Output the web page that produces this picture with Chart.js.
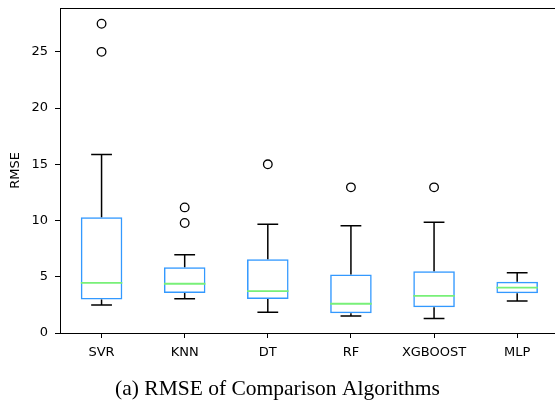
<!DOCTYPE html>
<html>
<head>
<meta charset="utf-8">
<script src="https://cdn.jsdelivr.net/npm/chart.js@4.4.3/dist/chart.umd.min.js"></script>
<style>
  html, body { margin: 0; padding: 0; background: #fff; overflow: hidden; }
</style>
</head>
<body>
<canvas id="chart" width="555" height="404"></canvas>
<script>
const algorithms = ['SVR', 'KNN', 'DT', 'RF', 'XGBOOST', 'MLP'];
const whiskerLow = [2.5, 3.05, 1.84, 1.51, 1.3, 2.84];
const quartile1 = [2.98, 3.56, 3.02, 1.75, 2.28, 3.53];
const medians = [4.45, 4.38, 3.73, 2.6, 3.3, 4.03];
const quartile3 = [10.3, 5.84, 6.55, 5.21, 5.5, 4.56];
const whiskerHigh = [15.88, 6.96, 9.66, 9.54, 9.84, 5.36];
const outliers = [[27.5, 25.0], [11.17, 9.78], [15.0], [12.95], [12.95], []];
const yTicks = [0, 5, 10, 15, 20, 25];

const tickFont = { family: '"DejaVu Sans", sans-serif', size: 13 };
const BOX_BLUE = '#3399ff';
const MEDIAN_GREEN = '#78f078';

// box outlines as floating bars
const boxData = algorithms.map((_, i) => ({ x: i + 1, y: [quartile1[i], quartile3[i]] }));

// whiskers and caps as broken line segments (y: null breaks the line)
const whiskerData = [];
algorithms.forEach((_, i) => {
  const x = i + 1;
  whiskerData.push(
    { x, y: quartile3[i] }, { x, y: whiskerHigh[i] }, { x, y: null },
    { x: x - 0.125, y: whiskerHigh[i] }, { x: x + 0.125, y: whiskerHigh[i] }, { x, y: null },
    { x, y: quartile1[i] }, { x, y: whiskerLow[i] }, { x, y: null },
    { x: x - 0.125, y: whiskerLow[i] }, { x: x + 0.125, y: whiskerLow[i] }, { x, y: null }
  );
});

const medianData = [];
algorithms.forEach((_, i) => {
  medianData.push({ x: i + 0.75, y: medians[i] }, { x: i + 1.25, y: medians[i] }, { x: i + 1, y: null });
});

const outlierData = [];
outliers.forEach((vals, i) => vals.forEach(v => outlierData.push({ x: i + 1, y: v })));

const topSpine = {
  id: 'topSpine',
  afterDraw(chart) {
    const { ctx, chartArea } = chart;
    ctx.save();
    ctx.strokeStyle = '#000';
    ctx.lineWidth = 1;
    ctx.beginPath();
    ctx.moveTo(chartArea.left, chartArea.top + 0.5);
    ctx.lineTo(chartArea.right, chartArea.top + 0.5);
    ctx.stroke();
    ctx.restore();
  }
};

new Chart(document.getElementById('chart'), {
  type: 'bar',
  data: {
    datasets: [
      {
        type: 'bar',
        data: boxData,
        backgroundColor: 'rgba(0,0,0,0)',
        borderColor: BOX_BLUE,
        borderWidth: 1.5,
        borderSkipped: false,
        categoryPercentage: 1,
        barPercentage: 0.5,
        order: 3
      },
      {
        type: 'line',
        data: whiskerData,
        borderColor: '#000',
        borderWidth: 1.5,
        pointRadius: 0,
        spanGaps: false,
        order: 2
      },
      {
        type: 'line',
        data: medianData,
        borderColor: MEDIAN_GREEN,
        borderWidth: 1.8,
        pointRadius: 0,
        spanGaps: false,
        order: 1
      },
      {
        type: 'line',
        data: outlierData,
        showLine: false,
        pointStyle: 'circle',
        pointRadius: 4.3,
        pointBorderWidth: 1.3,
        pointBorderColor: '#000',
        pointBackgroundColor: 'rgba(0,0,0,0)',
        order: 0
      }
    ]
  },
  options: {
    responsive: false,
    animation: false,
    layout: { autoPadding: false, padding: { top: 8, left: 0, right: 0, bottom: 0 } },
    plugins: {
      legend: { display: false },
      tooltip: { enabled: false },
      title: {
        display: true,
        position: 'bottom',
        text: '(a) RMSE of Comparison Algorithms',
        color: '#000',
        font: { family: '"Liberation Serif", "Times New Roman", serif', size: 21.5, weight: 'normal' },
        padding: { top: 3.2, bottom: 2 }
      }
    },
    scales: {
      x: {
        type: 'linear',
        offset: false,
        min: 0.5,
        max: 6.455,
        afterBuildTicks: s => { s.ticks = algorithms.map((_, i) => ({ value: i + 1 })); },
        afterFit: s => { s.height = 40; s.paddingLeft = 0; s.paddingRight = 0; },
        ticks: {
          callback: (v, i) => algorithms[i],
          font: tickFont,
          color: '#000',
          padding: 7,
          autoSkip: false,
          maxRotation: 0
        },
        grid: { display: true, offset: false, drawOnChartArea: false, drawTicks: true, tickLength: 5, color: '#000', lineWidth: 1 },
        border: { display: true, color: '#000', width: 1 }
      },
      y: {
        min: 0,
        max: 28.9,
        afterBuildTicks: s => { s.ticks = yTicks.map(v => ({ value: v })); },
        afterFit: s => { s.width = 60; s.paddingTop = 0; s.paddingBottom = 0; },
        ticks: { font: tickFont, color: '#000', padding: 7 },
        grid: { display: true, drawOnChartArea: false, drawTicks: true, tickLength: 5, color: '#000', lineWidth: 1 },
        border: { display: true, color: '#000', width: 1 },
        title: {
          display: true,
          text: 'RMSE',
          color: '#000',
          font: tickFont,
          padding: { top: 8, bottom: 0 }
        }
      }
    }
  },
  plugins: [topSpine]
});
</script>
</body>
</html>
